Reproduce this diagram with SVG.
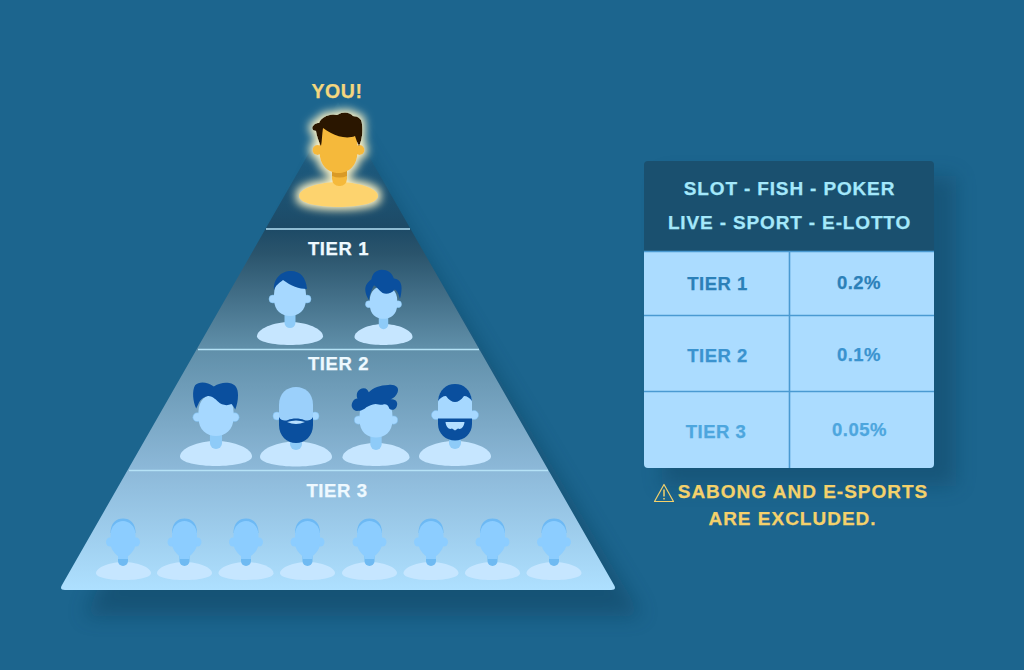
<svg xmlns="http://www.w3.org/2000/svg" width="1024" height="670" viewBox="0 0 1024 670">
  <style>
    text { font-family: "Liberation Sans", Arial, sans-serif; font-weight: 700; text-anchor: middle; stroke-width: .25px; }
    .tier { font-size: 18.5px; fill: #eef9ff; stroke: #eef9ff; letter-spacing: .6px; }
    .you { font-size: 19.5px; fill: #f4d77e; stroke: #f4d77e; letter-spacing: .6px; }
    .head { font-size: 19px; fill: #a4e8fb; stroke: #a4e8fb; letter-spacing: .85px; }
    .cell { font-size: 18.5px; letter-spacing: .5px; }
    .note { font-size: 19px; fill: #f4d16b; stroke: #f4d16b; letter-spacing: 1px; }
    .face { fill: #a6d8ff; }
    .ear { fill: #a6d8ff; stroke: #7fc0f2; stroke-width: .5; }
    .hair { fill: #0a4f9e; }
    .rule { stroke: #b5e2f6; stroke-width: 1.6; }
    .grid { stroke: #4a9ad2; stroke-width: 1.6; fill: none; }
  </style>
  <defs>
    <linearGradient id="pyr" gradientUnits="userSpaceOnUse" x1="0" y1="102" x2="0" y2="590">
      <stop offset="0" stop-color="#1f6a92"/>
      <stop offset=".12" stop-color="#1c5a7e"/>
      <stop offset=".26" stop-color="#1d4a66"/>
      <stop offset=".31" stop-color="#2a546c"/>
      <stop offset=".5" stop-color="#5f8ea8"/>
      <stop offset=".75" stop-color="#8cb8d8"/>
      <stop offset="1" stop-color="#aee0ff"/>
    </linearGradient>
    <filter id="soft" x="-25%" y="-25%" width="150%" height="150%">
      <feGaussianBlur stdDeviation="10"/>
    </filter>
    <filter id="glow" x="-30%" y="-30%" width="160%" height="160%">
      <feMorphology in="SourceAlpha" operator="dilate" radius="3" result="fat"/>
      <feGaussianBlur in="fat" stdDeviation="4" result="halo"/>
      <feFlood flood-color="#fdf3c4"/>
      <feComposite in2="halo" operator="in" result="lit"/>
      <feMerge>
        <feMergeNode in="lit"/>
        <feMergeNode in="SourceGraphic"/>
      </feMerge>
    </filter>
    <!-- unit shoulder dome: width 2, height 1, centred -->
    <path id="dome" fill="#c6e6ff" d="M-1 .12C-1 -.2 -.5 -.5 0 -.5S1 -.2 1 .12C1 .36 .5 .5 0 .5S-1 .36 -1 .12Z"/>
    <!-- head with ears and neck, centred on the face -->
    <g id="bust">
      <rect x="-5.500" y="12" width="11" height="19" rx="5.500" fill="#8ecbf8"/>
      <circle class="ear" cx="-17" cy="2" r="4"/>
      <circle class="ear" cx="17" cy="2" r="4"/>
      <path class="face" d="M-16 -2C-16 -14 -9 -19 0 -19S16 -14 16 -2V2C16 14 8 19 0 19S-16 14 -16 2Z"/>
    </g>
    <!-- small figure used along the bottom row -->
    <g id="crowd">
      <path fill="#6db9f4" d="M-12.500 -8C-12.500 -18 -7 -22.500 0 -22.500S12.500 -18 12.500 -8Z"/>
      <rect x="-5" y="10" width="10" height="15" rx="5" fill="#6fbaf2"/>
      <ellipse cx="-13" cy="1" rx="4" ry="4.500" fill="#8ccdff"/>
      <ellipse cx="13" cy="1" rx="4" ry="4.500" fill="#8ccdff"/>
      <path fill="#8ccdff" d="M-12.500 -6C-12.500 -15 -6 -20 0 -20S12.500 -15 12.500 -6V3C12.500 9 5 17 0 17S-12.500 9 -12.500 3Z"/>
      <rect x="-5" y="13" width="10" height="5" fill="#8ccdff"/>
    </g>
  </defs>

  <rect width="1024" height="670" fill="#1c658e"/>

  <!-- cast shadows -->
  <path d="M345 122L642 616H84Z" fill="#0e3a55" opacity=".42" filter="url(#soft)"/>
  <rect x="662" y="176" width="294" height="310" fill="#0e3a55" opacity=".36" filter="url(#soft)"/>

  <g id="pyramid">
    <path d="M338 102L614 585Q617 590 611 590H65Q59 590 62 585Z" fill="url(#pyr)"/>
    <line class="rule" x1="266" y1="229" x2="410" y2="229"/>
    <line class="rule" x1="198" y1="349.500" x2="479" y2="349.500"/>
    <line class="rule" x1="129" y1="470.500" x2="548" y2="470.500"/>
  </g>

  <g id="you">
    <text class="you" x="337" y="98">YOU!</text>
    <g filter="url(#glow)">
      <path fill="#fdd36e" d="M299 196C299 188 320 182 338.500 182S378 188 378 196C378 203 360 207 338.500 207S299 203 299 196Z"/>
      <rect x="332" y="164" width="15" height="22" rx="7" fill="#f5b93a"/>
      <path d="M332 171H347V176Q339.500 179 332 176Z" fill="#d99a26"/>
      <circle cx="317.500" cy="150" r="5" fill="#f5b93a"/>
      <circle cx="359.500" cy="150" r="5" fill="#f5b93a"/>
      <path d="M319.500 138C319.500 124 330 120 338.500 120S357.500 124 357.500 138V151C357.500 167 348 173 338.500 173S319.500 167 319.500 151Z" fill="#f5b93a"/>
      <path d="M321 146C318 140 316 133 316 131C313 131 311 128 313 126C315 123 317 123 319 123C321 117 330 113 337 115C343 111 350 112 353 116C358 116 362 119 362 124C363 132 362 140 359 146C357 142 356 139 355 136C348 139 338 137 331 133C327 131 325 129 323 128C322 134 322 141 321 146Z" fill="#2b1600"/>
    </g>
  </g>

  <g id="tier-1">
    <text class="tier" x="338.500" y="255">TIER 1</text>
    <g id="t1-a">
      <use href="#dome" transform="translate(290,333.500) scale(33,23)"/>
      <g transform="translate(290,297)">
        <use href="#bust"/>
        <path class="hair" d="M-16 -7C-17 -18 -9 -26 1 -26C10 -26 16 -20 17 -8C9 -8 1 -11 -7 -17C-11 -14 -15 -11 -16 -7Z"/>
      </g>
    </g>
    <g id="t1-b">
      <use href="#dome" transform="translate(383.500,334.500) scale(29,21)"/>
      <g transform="translate(383.500,302.500) scale(.86)">
        <use href="#bust"/>
        <path class="hair" d="M-17 -3C-21 -9 -23 -17 -19 -22C-17 -25 -15 -26 -14 -27C-13 -34 -8 -38 -2 -38C5 -38 10 -34 12 -28C17 -28 21 -24 21 -17C21 -12 20 -7 19 -4C18 -9 16 -14 13 -15C9 -10 3 -9 -1 -11C-5 -14 -8 -18 -11 -20C-14 -15 -16 -9 -17 -3Z"/>
      </g>
    </g>
  </g>

  <g id="tier-2">
    <text class="tier" x="338.500" y="370">TIER 2</text>
    <g id="t2-a">
      <use href="#dome" transform="translate(216,453.500) scale(36,25)"/>
      <g transform="translate(216,415) scale(1.1)">
        <use href="#bust"/>
        <path class="hair" d="M-18 -6C-21 -12 -22 -22 -19 -27C-15 -31 -8 -30 -2 -26C3 -29 8 -30 12 -29C18 -28 20 -24 20 -18C20 -13 19 -9 17.500 -5C16 -8 15 -9 14 -10C10 -8 5 -9 2 -12C-1 -15 -5 -18 -8 -17C-12 -16 -15 -13 -16 -10Z"/>
      </g>
    </g>
    <g id="t2-b">
      <use href="#dome" transform="translate(296,454) scale(36,25)"/>
      <g transform="translate(296,415)">
        <rect x="-6" y="20" width="12" height="15" rx="6" fill="#8ecbf8"/>
        <circle class="ear" cx="-19" cy="1" r="4"/>
        <circle class="ear" cx="19" cy="1" r="4"/>
        <path d="M-17 -10C-17 -22 -9 -28 0 -28S17 -22 17 -10V6H-17Z" fill="#9bd0fb"/>
        <path class="hair" d="M-17 2C-15 6 -11 6 -8 5C-4 3 4 3 8 5C11 6 15 6 17 2V10C17 21 9 28 0 28S-17 21 -17 10Z"/>
        <path d="M-9 7Q0 4 9 7Q0 11 -9 7Z" fill="#b8e0ff"/>
      </g>
    </g>
    <g id="t2-c">
      <use href="#dome" transform="translate(376,454.500) scale(33.500,23)"/>
      <g transform="translate(376,418) scale(1.03)">
        <use href="#bust"/>
        <path class="hair" d="M-17 -7C-22 -6 -25 -11 -23 -15C-22 -18 -20 -19 -18 -19C-20 -24 -17 -29 -12 -29C-9 -29 -8 -27 -7 -25C-3 -29 4 -32 12 -32C18 -33 23 -30 21 -25C20 -22 17 -19 14 -18C19 -19 22 -15 20 -11C19 -8 15 -7 13 -9C12 -13 9 -14 7 -13C4 -12 0 -15 -3 -13C-6 -12 -9 -11 -11 -9C-13 -8 -15 -7 -17 -7Z"/>
      </g>
    </g>
    <g id="t2-d">
      <use href="#dome" transform="translate(455,453.500) scale(36,25)"/>
      <g transform="translate(455,415)">
        <rect x="-6" y="20" width="12" height="14" rx="6" fill="#8ecbf8"/>
        <circle class="ear" cx="-19" cy="0" r="4.500"/>
        <circle class="ear" cx="19" cy="0" r="4.500"/>
        <path class="face" d="M-17 -12C-17 -24 -9 -30 0 -30S17 -24 17 -12V5H-17Z"/>
        <path class="hair" d="M-17 -14C-16 -25 -9 -31 0 -31S16 -25 17 -14C15 -17 12 -19 9 -19C6 -15 3 -13 0 -13S-6 -15 -9 -19C-12 -19 -15 -17 -17 -14Z"/>
        <path class="hair" d="M-17 3.500H17V9C17 19 9 25.500 0 25.500S-17 19 -17 9Z"/>
        <path fill="#b4dfff" d="M-9.500 7H9.500C9 12 6 15 3 13.500L0 15.500L-3 13.500C-6 15 -9 12 -9.500 7Z"/>
      </g>
    </g>
  </g>

  <g id="tier-3">
    <text class="tier" x="337" y="497">TIER 3</text>
    <g id="t3-a"><use href="#dome" transform="translate(123.500,571) scale(27.500,18)"/><use href="#crowd" transform="translate(123,541)"/></g>
    <g id="t3-b"><use href="#dome" transform="translate(184.500,571) scale(27.500,18)"/><use href="#crowd" transform="translate(184.500,541)"/></g>
    <g id="t3-c"><use href="#dome" transform="translate(246,571) scale(27.500,18)"/><use href="#crowd" transform="translate(246,541)"/></g>
    <g id="t3-d"><use href="#dome" transform="translate(307.500,571) scale(27.500,18)"/><use href="#crowd" transform="translate(307.500,541)"/></g>
    <g id="t3-e"><use href="#dome" transform="translate(369.500,571) scale(27.500,18)"/><use href="#crowd" transform="translate(369.500,541)"/></g>
    <g id="t3-f"><use href="#dome" transform="translate(431,571) scale(27.500,18)"/><use href="#crowd" transform="translate(431,541)"/></g>
    <g id="t3-g"><use href="#dome" transform="translate(492.500,571) scale(27.500,18)"/><use href="#crowd" transform="translate(492.500,541)"/></g>
    <g id="t3-h"><use href="#dome" transform="translate(554,571) scale(27.500,18)"/><use href="#crowd" transform="translate(554,541)"/></g>
  </g>

  <g id="rates">
    <path d="M648 161H930Q934 161 934 165V251H644V165Q644 161 648 161Z" fill="#1a506f"/>
    <path d="M644 251H934V464Q934 468 930 468H648Q644 468 644 464Z" fill="#abdcff"/>
    <path class="grid" d="M644 251.500H934M644 315.500H934M644 391.500H934M789.500 251V468"/>
    <text class="head" x="789.500" y="195">SLOT - FISH - POKER</text>
    <text class="head" x="789.500" y="229">LIVE - SPORT - E-LOTTO</text>
    <text class="cell" x="717.500" y="290" fill="#2b80b8" stroke="#2b80b8">TIER 1</text>
    <text class="cell" x="859" y="289" fill="#2b80b8" stroke="#2b80b8">0.2%</text>
    <text class="cell" x="717.500" y="362" fill="#3a93cf" stroke="#3a93cf">TIER 2</text>
    <text class="cell" x="859" y="361" fill="#3a93cf" stroke="#3a93cf">0.1%</text>
    <text class="cell" x="716" y="438" fill="#4da6de" stroke="#4da6de">TIER 3</text>
    <text class="cell" x="859.500" y="436" fill="#4da6de" stroke="#4da6de">0.05%</text>
  </g>

  <g id="exclusion">
    <path d="M664 484.500L673.500 501.500H654.500Z" fill="none" stroke="#f4d16b" stroke-width="1.2" stroke-linejoin="round"/>
    <path d="M664 489.500V496.500M664 498V499.500" stroke="#f4d16b" stroke-width="1.500" fill="none"/>
    <text class="note" x="803" y="498">SABONG AND E-SPORTS</text>
    <text class="note" x="792.500" y="525">ARE EXCLUDED.</text>
  </g>
</svg>
